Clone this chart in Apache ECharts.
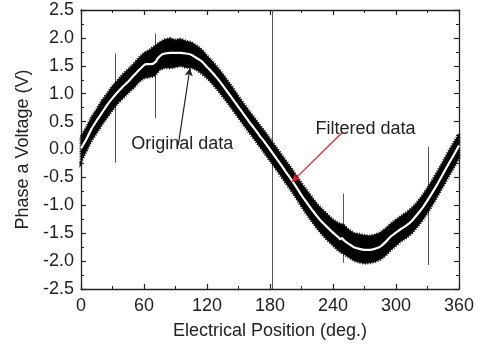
<!DOCTYPE html>
<html><head><meta charset="utf-8">
<script src="https://cdn.jsdelivr.net/npm/echarts@6/dist/echarts.min.js"></script>
<style>html,body{margin:0;padding:0;background:#fff}#c{width:484px;height:349px}</style>
</head><body><div id="c"></div>
<script>
// ---- data ----
const xTicks = [0, 60, 120, 180, 240, 300, 360];
const yTicks = [-2.5, -2.0, -1.5, -1.0, -0.5, 0.0, 0.5, 1.0, 1.5, 2.0, 2.5];

// envelope of the noisy "original data" band
const bandDeg = [0,5,10,15,20,25,30,35,40,45,50,55,60,65,70,75,80,85,90,95,100,105,110,115,120,125,130,135,140,145,150,155,160,165,170,175,180,185,190,195,200,205,210,215,220,225,230,235,240,245,250,255,260,265,270,275,280,285,290,295,300,305,310,315,320,325,330,335,340,345,350,355,360];
const bandHi = [0.23,0.39,0.58,0.72,0.88,1.00,1.14,1.24,1.35,1.44,1.53,1.64,1.73,1.78,1.85,1.92,1.97,1.99,1.96,1.98,1.94,1.92,1.86,1.79,1.68,1.58,1.47,1.35,1.22,1.09,0.95,0.82,0.69,0.57,0.44,0.32,0.19,0.06,-0.07,-0.20,-0.33,-0.47,-0.61,-0.73,-0.86,-0.98,-1.08,-1.17,-1.26,-1.32,-1.35,-1.44,-1.50,-1.52,-1.54,-1.55,-1.53,-1.49,-1.42,-1.33,-1.26,-1.19,-1.13,-1.05,-0.95,-0.83,-0.69,-0.54,-0.38,-0.21,-0.04,0.12,0.28];
const bandLo = [-0.22,-0.03,0.16,0.30,0.45,0.58,0.71,0.83,0.92,1.02,1.10,1.21,1.28,1.30,1.32,1.43,1.47,1.46,1.48,1.50,1.47,1.47,1.43,1.36,1.28,1.18,1.07,0.95,0.83,0.70,0.57,0.44,0.31,0.19,0.06,-0.07,-0.20,-0.33,-0.46,-0.60,-0.73,-0.87,-1.02,-1.16,-1.29,-1.42,-1.53,-1.63,-1.72,-1.81,-1.87,-1.93,-1.99,-2.02,-2.04,-2.03,-2.01,-1.97,-1.90,-1.80,-1.72,-1.64,-1.58,-1.50,-1.39,-1.27,-1.13,-0.98,-0.82,-0.65,-0.48,-0.32,-0.15];

// filtered (white) curve
const filteredDeg = [0,5,10,15,20,25,30,35,40,45,50,55,60,62,67,71,73,77,80,85,90,95,100,105,110,115,120,125,130,135,140,145,150,155,160,165,170,175,180,185,190,195,200,205,210,215,220,225,230,235,240,245,247,248.5,250,252,255,260,265,270,275,280,285,290,295,300,305,310,315,320,325,330,335,340,345,350,355,360];
const filteredV = [0.02,0.18,0.37,0.52,0.66,0.80,0.92,1.03,1.13,1.22,1.32,1.42,1.51,1.53,1.53,1.57,1.63,1.70,1.72,1.73,1.73,1.73,1.72,1.70,1.64,1.58,1.48,1.38,1.27,1.15,1.02,0.89,0.76,0.63,0.50,0.38,0.25,0.13,0.00,-0.13,-0.26,-0.40,-0.53,-0.67,-0.82,-0.95,-1.08,-1.20,-1.31,-1.40,-1.49,-1.57,-1.61,-1.59,-1.62,-1.65,-1.69,-1.75,-1.78,-1.80,-1.80,-1.78,-1.74,-1.66,-1.56,-1.49,-1.42,-1.36,-1.28,-1.17,-1.05,-0.91,-0.76,-0.60,-0.43,-0.26,-0.10,0.07];

// isolated spikes in the raw signal
const spikeDeg = [32.3, 70, 181.5, 249.8, 330.8];
const spikeLo = [-0.24, 0.56, -2.5, -2.03, -2.07];
const spikeHi = [1.72, 2.08, 2.5, -0.79, 0.05];

// annotation arrows [fromDeg, fromV, toDeg, toV]
const origArrow = [92.6, 0.08, 103.8, 1.46];
const filtArrow = [248.6, 0.30, 201, -0.58];
const origLabel = 'Original data';
const filtLabel = 'Filtered data';
const xName = 'Electrical Position (deg.)';
const yName = 'Phase a Voltage (V)';

// ---- chart ----
const FONT = "'Liberation Sans', Arial, sans-serif";
const chart = echarts.init(document.getElementById('c'));
const axisCommon = {
  splitLine: {show: false},
  axisLine: {show: true, onZero: false, lineStyle: {color: '#222', width: 1.3}},
  axisTick: {show: true, inside: true, length: 5, lineStyle: {color: '#222', width: 1.2}},
  minorTick: {show: true, splitNumber: 2, length: 3, lineStyle: {color: '#222', width: 1}},
};
function xAx(pos, labels) {
  return Object.assign({}, axisCommon, {
    type: 'value', position: pos, min: xTicks[0], max: xTicks[xTicks.length-1], interval: 60,
    axisLabel: {show: labels, fontSize: 18, color: '#222', fontFamily: FONT, margin: 8},
    name: labels ? xName : '', nameLocation: 'middle', nameGap: 33,
    nameTextStyle: {fontSize: 18, color: '#222', fontFamily: FONT}
  });
}
function yAx(pos, labels) {
  return Object.assign({}, axisCommon, {
    type: 'value', position: pos, min: yTicks[0], max: yTicks[yTicks.length-1], interval: 0.5,
    axisLabel: {show: labels, fontSize: 18, color: '#222', fontFamily: FONT, margin: 7,
      formatter: v => v.toFixed(1)},
    name: labels ? yName : '', nameLocation: 'middle', nameGap: 47,
    nameTextStyle: {fontSize: 18, color: '#222', fontFamily: FONT}
  });
}

const bandData = bandDeg.map((d, i) => [d, bandLo[i], bandHi[i]]);
const spikeData = spikeDeg.map((d, i) => [d, spikeLo[i], spikeHi[i]]);
const filtData = filteredDeg.map((d, i) => [d, filteredV[i]]);

chart.setOption({
  animation: false,
  backgroundColor: '#fff',
  grid: {left: 81, right: 25, top: 10, bottom: 60, containLabel: false},
  xAxis: [xAx('bottom', true), xAx('top', false)],
  yAxis: [yAx('left', true), yAx('right', false)],
  series: [
    {
      type: 'custom', name: 'spikes', data: spikeData, z: 1,
      encode: {x: 0, y: [1, 2]},
      renderItem: (params, api) => {
        const a = api.coord([api.value(0), api.value(1)]);
        const b = api.coord([api.value(0), api.value(2)]);
        return {type: 'line', shape: {x1: Math.round(a[0]) + 0.5, y1: a[1], x2: Math.round(b[0]) + 0.5, y2: b[1]},
          style: {stroke: '#555', lineWidth: 1}};
      }
    },
    {
      type: 'custom', name: 'original', data: bandData, z: 2,
      encode: {x: 0, y: [1, 2]},
      renderItem: (params, api) => {
        if (params.dataIndex !== 0) return null;
        const pts = [];
        for (let i = 0; i < bandData.length; i++) pts.push(api.coord([bandData[i][0], bandData[i][2]]));
        for (let i = bandData.length - 1; i >= 0; i--) pts.push(api.coord([bandData[i][0], bandData[i][1]]));
        return {type: 'group', children: [
          {type: 'polygon', shape: {points: pts}, style: {fill: '#000', stroke: '#000', lineWidth: 0.8}},
          {type: 'polygon', shape: {points: pts}, style: {fill: null, stroke: '#111', lineWidth: 3, lineDash: [1, 1.6]}}
        ]};
      }
    },
    {
      type: 'line', name: 'filtered', data: filtData, z: 3, showSymbol: false, symbol: 'none',
      lineStyle: {color: '#fff', width: 2.2}, smooth: 0.2
    },
    {
      type: 'line', name: 'arrows', data: [], z: 4,
      markLine: {
        silent: true, symbol: ['none', 'arrow'], symbolSize: [6, 8], label: {show: false},
        data: [
          [{coord: [origArrow[0], origArrow[1]], lineStyle: {color: '#222', width: 1.2, type: 'solid'}},
           {coord: [origArrow[2], origArrow[3]]}],
          [{coord: [filtArrow[0], filtArrow[1]], lineStyle: {color: '#e0202a', width: 1.2, type: 'solid'}},
           {coord: [filtArrow[2], filtArrow[3]]}]
        ]
      }
    }
  ]
});

const p1 = chart.convertToPixel({xAxisIndex: 0, yAxisIndex: 0}, [96.5, 0.1]);
const p2 = chart.convertToPixel({xAxisIndex: 0, yAxisIndex: 0}, [271, 0.36]);
chart.setOption({
  graphic: [
    {type: 'text', x: p1[0], y: p1[1], style: {text: origLabel, fontSize: 18, fontFamily: FONT, fill: '#222', align: 'center', verticalAlign: 'middle'}, z: 10},
    {type: 'text', x: p2[0], y: p2[1], style: {text: filtLabel, fontSize: 18, fontFamily: FONT, fill: '#222', align: 'center', verticalAlign: 'middle'}, z: 10}
  ]
});
</script>
</body></html>
